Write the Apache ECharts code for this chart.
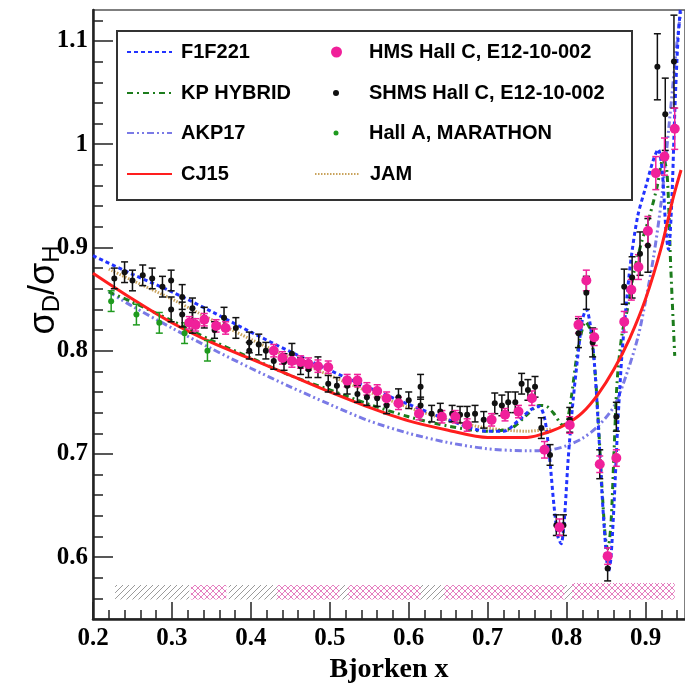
<!DOCTYPE html>
<html>
<head>
<meta charset="utf-8">
<script src="https://cdn.jsdelivr.net/npm/echarts@6/dist/echarts.min.js"></script>
<style>
  html, body { margin: 0; padding: 0; background: #fff; }
  #chart { width: 685px; height: 689px; }
</style>
</head>
<body>
<div id="chart"></div>
<script>
// Axis ticks
const xTicks = [0.2, 0.3, 0.4, 0.5, 0.6, 0.7, 0.8, 0.9];
const xMinorTicks = [0.22, 0.24, 0.26, 0.28, 0.32, 0.34, 0.36, 0.38, 0.42, 0.44, 0.46, 0.48,
  0.52, 0.54, 0.56, 0.58, 0.62, 0.64, 0.66, 0.68, 0.72, 0.74, 0.76, 0.78,
  0.82, 0.84, 0.86, 0.88, 0.92, 0.94];
const yTicks = [0.6, 0.7, 0.8, 0.9, 1, 1.1];
const yMinorTicks = [0.56, 0.58, 0.62, 0.64, 0.66, 0.68, 0.72, 0.74, 0.76, 0.78,
  0.82, 0.84, 0.86, 0.88, 0.92, 0.94, 0.96, 0.98, 1.02, 1.04, 1.06, 1.08, 1.12];

// Model curves [x, sigma_D/sigma_H]
const f1f221 = [[0.20,0.892],[0.25,0.874],[0.30,0.857],[0.35,0.838],[0.40,0.818],[0.45,0.799],
  [0.50,0.781],[0.55,0.764],[0.60,0.748],[0.65,0.733],[0.70,0.722],[0.72,0.722],[0.74,0.733],
  [0.755,0.743],[0.765,0.746],[0.772,0.735],[0.778,0.700],[0.784,0.650],[0.789,0.620],
  [0.793,0.613],[0.797,0.635],[0.802,0.695],[0.808,0.750],[0.815,0.800],[0.820,0.830],
  [0.825,0.840],[0.830,0.825],[0.835,0.790],[0.840,0.730],[0.845,0.660],[0.850,0.605],
  [0.853,0.586],[0.856,0.598],[0.860,0.650],[0.865,0.731],[0.870,0.795],[0.875,0.840],
  [0.881,0.885],[0.890,0.930],[0.900,0.958],[0.910,0.985],[0.916,0.995],[0.921,0.975],
  [0.926,0.915],[0.929,0.898],[0.933,0.940],[0.937,1.030],[0.941,1.100],[0.944,1.130]];
const kpHybrid = [[0.22,0.857],[0.25,0.847],[0.30,0.829],[0.35,0.810],[0.40,0.793],[0.45,0.776],
  [0.50,0.762],[0.55,0.748],[0.60,0.736],[0.65,0.727],[0.70,0.722],[0.73,0.725],[0.75,0.738],
  [0.765,0.747],[0.775,0.746],[0.785,0.738],[0.795,0.728],[0.800,0.730],[0.806,0.755],
  [0.812,0.790],[0.818,0.815],[0.824,0.828],[0.830,0.820],[0.836,0.780],[0.841,0.720],
  [0.845,0.665],[0.849,0.620],[0.852,0.608],[0.856,0.630],[0.860,0.700],[0.864,0.770],
  [0.870,0.815],[0.877,0.840],[0.885,0.875],[0.895,0.905],[0.905,0.930],[0.915,0.960],
  [0.922,0.985],[0.927,0.975],[0.932,0.880],[0.937,0.795]];
const akp17 = [[0.22,0.857],[0.25,0.843],[0.30,0.822],[0.35,0.802],[0.40,0.783],[0.45,0.765],
  [0.50,0.748],[0.55,0.732],[0.60,0.720],[0.65,0.711],[0.70,0.705],[0.75,0.703],[0.78,0.704],
  [0.80,0.708],[0.82,0.715],[0.84,0.727],[0.86,0.746],[0.875,0.775],[0.89,0.812],[0.90,0.848],
  [0.91,0.890],[0.92,0.945],[0.93,1.020],[0.94,1.100],[0.945,1.130]];
const cj15 = [[0.20,0.875],[0.25,0.850],[0.30,0.827],[0.35,0.808],[0.40,0.792],[0.45,0.776],
  [0.50,0.760],[0.55,0.745],[0.60,0.732],[0.65,0.723],[0.70,0.716],[0.75,0.716],[0.78,0.722],
  [0.80,0.729],[0.82,0.740],[0.84,0.758],[0.86,0.782],[0.88,0.812],[0.90,0.850],[0.92,0.900],
  [0.935,0.948],[0.945,0.975]];
const jam = [[0.22,0.879],[0.25,0.868],[0.30,0.850],[0.335,0.836],[0.40,0.811],[0.45,0.793],
  [0.50,0.776],[0.55,0.760],[0.60,0.745],[0.65,0.733],[0.70,0.725],[0.75,0.722],[0.78,0.724]];

// Measurements [x, ratio, error]
const hmsData = [[0.322,0.827,0.006],[0.330,0.825,0.006],[0.341,0.830,0.006],[0.356,0.824,0.006],
  [0.368,0.822,0.006],[0.429,0.800,0.006],[0.440,0.793,0.006],[0.452,0.790,0.006],
  [0.463,0.789,0.006],[0.473,0.787,0.006],[0.485,0.785,0.006],[0.498,0.784,0.006],
  [0.522,0.771,0.006],[0.535,0.771,0.006],[0.547,0.763,0.006],[0.560,0.761,0.006],
  [0.572,0.754,0.006],[0.587,0.749,0.006],[0.613,0.739,0.006],[0.642,0.736,0.006],
  [0.659,0.736,0.006],[0.674,0.728,0.006],[0.705,0.733,0.006],[0.722,0.738,0.006],
  [0.739,0.741,0.006],[0.756,0.754,0.007],[0.772,0.704,0.008],[0.791,0.629,0.008],
  [0.804,0.728,0.008],[0.815,0.825,0.008],[0.825,0.868,0.010],[0.835,0.813,0.008],
  [0.842,0.690,0.008],[0.852,0.601,0.008],[0.863,0.696,0.008],[0.873,0.828,0.010],
  [0.882,0.859,0.010],[0.891,0.881,0.012],[0.903,0.916,0.014],[0.913,0.972,0.016],
  [0.924,0.988,0.018],[0.937,1.015,0.020]];
const shmsData = [[0.227,0.870,0.010],[0.240,0.876,0.010],[0.250,0.868,0.010],[0.263,0.873,0.010],
  [0.275,0.870,0.010],[0.288,0.862,0.010],[0.299,0.868,0.010],[0.299,0.840,0.012],
  [0.313,0.852,0.012],[0.313,0.835,0.012],[0.326,0.841,0.010],[0.326,0.827,0.010],
  [0.341,0.832,0.010],[0.354,0.820,0.008],[0.366,0.832,0.010],[0.381,0.822,0.010],
  [0.398,0.808,0.010],[0.398,0.800,0.008],[0.410,0.806,0.010],[0.419,0.800,0.008],
  [0.429,0.790,0.008],[0.442,0.789,0.008],[0.452,0.797,0.010],[0.463,0.785,0.008],
  [0.473,0.782,0.008],[0.485,0.784,0.010],[0.498,0.768,0.008],[0.509,0.766,0.008],
  [0.522,0.766,0.008],[0.535,0.758,0.008],[0.547,0.755,0.008],[0.560,0.754,0.008],
  [0.572,0.747,0.008],[0.587,0.755,0.008],[0.600,0.752,0.008],[0.615,0.765,0.012],
  [0.615,0.747,0.008],[0.629,0.739,0.008],[0.640,0.741,0.008],[0.655,0.739,0.008],
  [0.665,0.738,0.008],[0.674,0.738,0.008],[0.684,0.739,0.008],[0.695,0.733,0.008],
  [0.709,0.749,0.010],[0.718,0.747,0.010],[0.726,0.750,0.010],[0.735,0.750,0.010],
  [0.743,0.768,0.010],[0.751,0.762,0.010],[0.760,0.765,0.010],[0.768,0.725,0.010],
  [0.779,0.699,0.010],[0.787,0.631,0.010],[0.796,0.631,0.010],[0.804,0.733,0.012],
  [0.815,0.817,0.014],[0.825,0.856,0.016],[0.833,0.808,0.014],[0.842,0.690,0.014],
  [0.852,0.589,0.012],[0.863,0.736,0.014],[0.873,0.862,0.017],[0.883,0.871,0.020],
  [0.893,0.894,0.021],[0.903,0.902,0.026],[0.915,1.075,0.032],[0.925,1.029,0.035],
  [0.936,1.080,0.045]];
const marathonData = [[0.223,0.848,0.010],[0.255,0.835,0.010],[0.284,0.827,0.010],
  [0.316,0.817,0.010],[0.345,0.800,0.010]];

// Systematic uncertainty bands [x0, x1, yLow, yHigh]
const shmsSysBands = [[0.228,0.322,0.559,0.573],[0.372,0.450,0.559,0.573],[0.512,0.525,0.559,0.573],
  [0.570,0.646,0.559,0.573],[0.797,0.809,0.559,0.573]];
const hmsSysBands = [[0.324,0.369,0.559,0.573],[0.433,0.512,0.559,0.573],[0.523,0.615,0.559,0.573],
  [0.645,0.797,0.559,0.573],[0.807,0.937,0.559,0.575]];

const COLORS = {
  f1f221: '#2233ff', kp: '#1c7c1c', akp: '#7a7ae6', cj15: '#ff1e1e', jam: '#c9a35c',
  hms: '#f0209a', shms: '#111111', marathon: '#1e9a1e'
};

function hatchCanvas(color, cross) {
  const s = 6;
  const c = document.createElement('canvas');
  c.width = s; c.height = s;
  const g = c.getContext('2d');
  g.strokeStyle = color;
  g.lineWidth = 1;
  g.beginPath();
  g.moveTo(0, s); g.lineTo(s, 0);
  g.moveTo(-1, 1); g.lineTo(1, -1);
  g.moveTo(s - 1, s + 1); g.lineTo(s + 1, s - 1);
  if (cross) {
    g.moveTo(0, 0); g.lineTo(s, s);
    g.moveTo(s - 1, -1); g.lineTo(s + 1, 1);
    g.moveTo(-1, s - 1); g.lineTo(1, s + 1);
  }
  g.stroke();
  return c;
}
const grayHatch = hatchCanvas('#9a9a9a', false);
const pinkHatch = hatchCanvas('#e57fc0', true);

function bandSeries(name, data, pattern) {
  return {
    name, type: 'custom', data, z: 1, silent: true,
    encode: { x: [0, 1], y: [2, 3] },
    renderItem(params, api) {
      const p0 = api.coord([api.value(0), api.value(3)]);
      const p1 = api.coord([api.value(1), api.value(2)]);
      return {
        type: 'rect',
        shape: { x: p0[0], y: p0[1], width: p1[0] - p0[0], height: p1[1] - p0[1] },
        style: { fill: { image: pattern, repeat: 'repeat' } }
      };
    }
  };
}

function errorBarSeries(name, data, color) {
  return {
    name, type: 'custom', data, z: 3, silent: true,
    encode: { x: 0, y: 1 },
    renderItem(params, api) {
      const x = api.value(0), y = api.value(1), e = api.value(2);
      const hi = api.coord([x, y + e]);
      const lo = api.coord([x, y - e]);
      const cap = 3.5;
      const st = { stroke: color, lineWidth: 1.5 };
      return {
        type: 'group',
        children: [
          { type: 'line', shape: { x1: hi[0], y1: hi[1], x2: lo[0], y2: lo[1] }, style: st },
          { type: 'line', shape: { x1: hi[0] - cap, y1: hi[1], x2: hi[0] + cap, y2: hi[1] }, style: st },
          { type: 'line', shape: { x1: lo[0] - cap, y1: lo[1], x2: lo[0] + cap, y2: lo[1] }, style: st }
        ]
      };
    }
  };
}

function curve(name, data, color, type, width, z) {
  return {
    name, type: 'line', data, smooth: 0.3, symbol: 'none', showSymbol: false, z,
    lineStyle: { color, type, width }, itemStyle: { color }, silent: true
  };
}

function points(name, data, color, size) {
  return {
    name, type: 'scatter', data, symbol: 'circle', symbolSize: size, z: 4,
    itemStyle: { color, opacity: 1 }, encode: { x: 0, y: 1 }, silent: true
  };
}

const serifBold = { fontFamily: 'Liberation Serif', fontWeight: 'bold', color: '#000' };
function legendText(padLeft) {
  return { fontFamily: 'Liberation Sans', fontWeight: 'bold', fontSize: 20, color: '#000',
    lineHeight: 20, padding: [0, 0, 0, padLeft] };
}

// Legend layout: row centres, icon left edge, icon size
const rowCenters = [52, 93, 133, 174];
const legendItems = [
  { name: 'F1F221', left: 126, row: 0, w: 45, h: 14, pad: 4 },
  { name: 'KP HYBRID', left: 126, row: 1, w: 45, h: 14, pad: 4 },
  { name: 'AKP17', left: 126, row: 2, w: 45, h: 14, pad: 4 },
  { name: 'CJ15', left: 126, row: 3, w: 45, h: 14, pad: 4 },
  { name: 'HMS Hall C, E12-10-002', left: 331, row: 0, w: 11, h: 11, pad: 22, icon: 'circle' },
  { name: 'SHMS Hall C, E12-10-002', left: 333, row: 1, w: 6, h: 6, pad: 25, icon: 'circle' },
  { name: 'Hall A, MARATHON', left: 333.5, row: 2, w: 5, h: 5, pad: 25.5, icon: 'circle' },
  { name: 'JAM', left: 314, row: 3, w: 45, h: 14, pad: 5 }
];

const chart = echarts.init(document.getElementById('chart'), null, { renderer: 'canvas' });

chart.setOption({
  animation: false,
  backgroundColor: '#fff',
  grid: { left: 93, top: 10, width: 594, height: 617, show: true, borderColor: '#555', borderWidth: 1.5,
    containLabel: false },
  xAxis: [
    {
      type: 'value', min: 0.2, max: 0.95, position: 'bottom',
      axisLine: { show: true, onZero: false, lineStyle: { color: '#222', width: 2.5 } },
      axisTick: { show: true, inside: true, length: 17, customValues: xTicks, lineStyle: { color: '#222', width: 1.5 } },
      axisLabel: Object.assign({ customValues: xTicks, fontSize: 25, margin: 7 }, serifBold),
      splitLine: { show: false },
      name: 'Bjorken x', nameLocation: 'middle', nameGap: 31,
      nameTextStyle: Object.assign({ fontSize: 28 }, serifBold)
    },
    {
      type: 'value', min: 0.2, max: 0.95, position: 'bottom',
      axisLine: { show: false },
      axisTick: { show: true, inside: true, length: 9, customValues: xMinorTicks, lineStyle: { color: '#222', width: 1.5 } },
      axisLabel: { show: false }, splitLine: { show: false }
    }
  ],
  yAxis: [
    {
      type: 'value', min: 0.54, max: 1.13, position: 'left',
      axisLine: { show: true, onZero: false, lineStyle: { color: '#222', width: 2.5 } },
      axisTick: { show: true, inside: true, length: 20, customValues: yTicks, lineStyle: { color: '#222', width: 1.5 } },
      axisLabel: Object.assign({ customValues: yTicks, fontSize: 25, margin: 5 }, serifBold),
      splitLine: { show: false }
    },
    {
      type: 'value', min: 0.54, max: 1.13, position: 'left',
      axisLine: { show: false },
      axisTick: { show: true, inside: true, length: 10, customValues: yMinorTicks, lineStyle: { color: '#222', width: 1.5 } },
      axisLabel: { show: false }, splitLine: { show: false }
    }
  ],
  legend: legendItems.map(it => ({
    left: it.left, top: rowCenters[it.row] - 10, orient: 'vertical', padding: 0,
    itemWidth: it.w, itemHeight: it.h, selectedMode: false, z: 6,
    data: [it.icon ? { name: it.name, icon: it.icon } : { name: it.name, itemStyle: { opacity: 0 } }],
    textStyle: legendText(it.pad)
  })),
  graphic: [
    { type: 'rect', z: 5, shape: { x: 117, y: 31, width: 515, height: 169 },
      style: { fill: '#fff', stroke: '#333', lineWidth: 2 } },
    { type: 'text', z: 10, x: 44, y: 290, rotation: Math.PI / 2,
      style: {
        text: '{s|σ}{b|D}{s|/σ}{b|H}', align: 'center', verticalAlign: 'middle',
        rich: {
          s: { fontFamily: 'Liberation Sans', fontSize: 36, lineHeight: 40, fill: '#000' },
          b: { fontFamily: 'Liberation Sans', fontSize: 24, lineHeight: 24, fill: '#000',
               verticalAlign: 'bottom', padding: [14, 0, 0, 0] }
        }
      } }
  ],
  series: [
    bandSeries('SHMS systematic', shmsSysBands, grayHatch),
    bandSeries('HMS systematic', hmsSysBands, pinkHatch),
    curve('JAM', jam, COLORS.jam, [1.5, 1.5], 3, 2),
    curve('AKP17', akp17, COLORS.akp, [7, 3, 2, 3, 2, 3], 3, 2),
    curve('KP HYBRID', kpHybrid, COLORS.kp, [6, 4, 2, 4], 3, 2),
    curve('F1F221', f1f221, COLORS.f1f221, [4, 3], 3, 2),
    curve('CJ15', cj15, COLORS.cj15, 'solid', 3, 2),
    errorBarSeries('MARATHON errors', marathonData, COLORS.marathon),
    errorBarSeries('SHMS errors', shmsData, COLORS.shms),
    errorBarSeries('HMS errors', hmsData, COLORS.hms),
    points('Hall A, MARATHON', marathonData, COLORS.marathon, 6),
    points('SHMS Hall C, E12-10-002', shmsData, COLORS.shms, 6),
    points('HMS Hall C, E12-10-002', hmsData, COLORS.hms, 10)
  ]
});
</script>
</body>
</html>
